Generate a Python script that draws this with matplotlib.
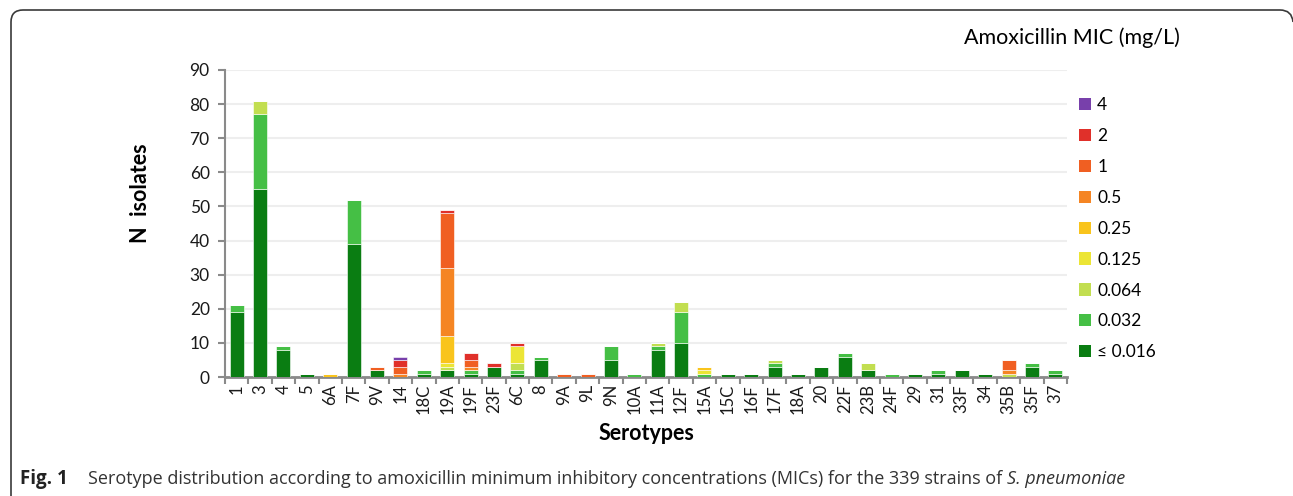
import matplotlib
matplotlib.use('Agg')
import matplotlib.pyplot as plt
from matplotlib.path import Path
from matplotlib.patches import PathPatch, Patch

# Serotypes on the x axis
serotypes = ['1', '3', '4', '5', '6A', '7F', '9V', '14', '18C', '19A', '19F', '23F',
             '6C', '8', '9A', '9L', '9N', '10A', '11A', '12F', '15A', '15C', '16F', '17F',
             '18A', '20', '22F', '23B', '24F', '29', '31', '33F', '34', '35B', '35F', '37']

# Number of isolates per amoxicillin MIC class (mg/L)
mic_le0016 = [19, 55, 8, 1, 0, 39, 2, 0, 1, 2, 1, 3, 1, 5, 0, 0, 5, 0, 8, 10, 0, 1, 1, 3, 1, 3, 6, 2, 0, 1, 1, 2, 1, 0, 3, 1]
mic_0032 = [2, 22, 1, 0, 0, 13, 0, 0, 1, 0, 1, 0, 1, 1, 0, 0, 4, 1, 1, 9, 1, 0, 0, 1, 0, 0, 1, 0, 1, 0, 1, 0, 0, 0, 1, 1]
mic_0064 = [0, 4, 0, 0, 0, 0, 0, 0, 0, 1, 0, 0, 2, 0, 0, 0, 0, 0, 1, 3, 0, 0, 0, 1, 0, 0, 0, 2, 0, 0, 0, 0, 0, 1, 0, 0]
mic_0125 = [0, 0, 0, 0, 0, 0, 0, 0, 0, 1, 0, 0, 5, 0, 0, 0, 0, 0, 0, 0, 1, 0, 0, 0, 0, 0, 0, 0, 0, 0, 0, 0, 0, 0, 0, 0]
mic_025 = [0, 0, 0, 0, 1, 0, 0, 0, 0, 8, 0, 0, 0, 0, 0, 0, 0, 0, 0, 0, 1, 0, 0, 0, 0, 0, 0, 0, 0, 0, 0, 0, 0, 0, 0, 0]
mic_05 = [0, 0, 0, 0, 0, 0, 0, 1, 0, 20, 1, 0, 0, 0, 0, 0, 0, 0, 0, 0, 0, 0, 0, 0, 0, 0, 0, 0, 0, 0, 0, 0, 0, 1, 0, 0]
mic_1 = [0, 0, 0, 0, 0, 0, 1, 2, 0, 16, 2, 0, 0, 0, 1, 1, 0, 0, 0, 0, 0, 0, 0, 0, 0, 0, 0, 0, 0, 0, 0, 0, 0, 3, 0, 0]
mic_2 = [0, 0, 0, 0, 0, 0, 0, 2, 0, 1, 2, 1, 1, 0, 0, 0, 0, 0, 0, 0, 0, 0, 0, 0, 0, 0, 0, 0, 0, 0, 0, 0, 0, 0, 0, 0]
mic_4 = [0, 0, 0, 0, 0, 0, 0, 1, 0, 0, 0, 0, 0, 0, 0, 0, 0, 0, 0, 0, 0, 0, 0, 0, 0, 0, 0, 0, 0, 0, 0, 0, 0, 0, 0, 0]

mic_labels = ['≤ 0.016', '0.032', '0.064', '0.125', '0.25', '0.5', '1', '2', '4']
mic_series = [mic_le0016, mic_0032, mic_0064, mic_0125, mic_025, mic_05, mic_1, mic_2, mic_4]
mic_colors = ['#0a7d12', '#45bf45', '#c2de50', '#ece535', '#f9c41c', '#f58523', '#f05f22', '#e0302a', '#7840ab']

W, H = 1293, 496
fig = plt.figure(figsize=(W / 100, H / 100), dpi=100)
ax = fig.add_axes([225 / W, 1 - 377 / H, (1067 - 225) / W, (377 - 70) / H])

x = list(range(len(serotypes)))
bottom = [0] * len(serotypes)
for vals, col, lab in zip(mic_series, mic_colors, mic_labels):
    ax.bar(x, vals, width=0.6, bottom=bottom, color=col, edgecolor='#ffffff', linewidth=0.4, label=lab, zorder=3)
    bottom = [b + v for b, v in zip(bottom, vals)]

ax.set_xlim(-0.5, len(serotypes) - 0.5)
ax.set_ylim(0, 90)
ax.set_yticks(range(0, 91, 10))
ax.yaxis.grid(True, color='#eeeeee', linewidth=1.5, zorder=0)
ax.set_axisbelow(True)

# ticks between categories, labels at the centres
ax.set_xticks([i - 0.5 for i in range(len(serotypes) + 1)])
ax.set_xticklabels([])
ax.set_xticks(x, minor=True)
ax.set_xticklabels(serotypes, minor=True, rotation=90, fontsize=12, family='Lato', color='#1a1a1a')
ax.tick_params(axis='x', which='minor', length=0, pad=5)
ax.tick_params(axis='x', which='major', length=5, width=1.5, color='#8a8a8a')
ax.tick_params(axis='y', length=5, width=1.5, color='#8a8a8a', labelsize=12.5, labelcolor='#1a1a1a', pad=6)
for lbl in ax.get_yticklabels():
    lbl.set_family('Lato')

for s in ['top', 'right']:
    ax.spines[s].set_visible(False)
ax.spines['left'].set_color('#8a8a8a')
ax.spines['left'].set_linewidth(1.5)
ax.spines['bottom'].set_color('#8a8a8a')
ax.spines['bottom'].set_linewidth(2)

ax.set_ylabel('N  isolates', fontsize=15.5, fontweight='bold', family='Lato')
ax.yaxis.set_label_coords(-0.088, 0.6)
ax.set_xlabel('Serotypes', fontsize=15.5, fontweight='bold', family='Lato', labelpad=6)

# legend, highest MIC at the top
handles = [Patch(facecolor=c, edgecolor='none') for c in mic_colors][::-1]
leg = fig.legend(handles, mic_labels[::-1], loc='upper left', bbox_to_anchor=(1072 / W, 1 - 90 / H),
                 frameon=False, prop={'family': 'Lato', 'size': 12.5}, handlelength=0.7, handleheight=0.7,
                 handletextpad=0.35, labelspacing=0.86, borderaxespad=0)
fig.text(1072 / W, 1 - 38 / H, 'Amoxicillin MIC (mg/L)', ha='center', va='center', fontsize=15.5, family='Lato')

# rounded frame open at the bottom
verts = [(11, H), (11, 22), (11, 10), (23, 10), (1280, 10), (1292, 10), (1293, 22)]
verts = [(vx / W, 1 - vy / H) for vx, vy in verts]
codes = [Path.MOVETO, Path.LINETO, Path.CURVE3, Path.CURVE3, Path.LINETO, Path.CURVE3, Path.CURVE3]
fig.add_artist(PathPatch(Path(verts, codes), facecolor='none', edgecolor='#3a3a3a', linewidth=1.2,
                         transform=fig.transFigure))

# caption
renderer = fig.canvas.get_renderer()
cy = 1 - 479 / H
fig.text(20 / W, cy, 'Fig. 1', fontsize=13.5, fontweight='bold', family='Open Sans', va='center', color='#222222')
t2 = fig.text(88 / W, cy, 'Serotype distribution according to amoxicillin minimum inhibitory concentrations (MICs) for the 339 strains of ',
              fontsize=13, family='Open Sans', va='center', color='#333333')
bb = t2.get_window_extent(renderer)
fig.text(bb.x1 / W, cy, 'S. pneumoniae', fontsize=13, family='Open Sans', style='italic', va='center', color='#333333')

fig.savefig('out.png', dpi=100)
